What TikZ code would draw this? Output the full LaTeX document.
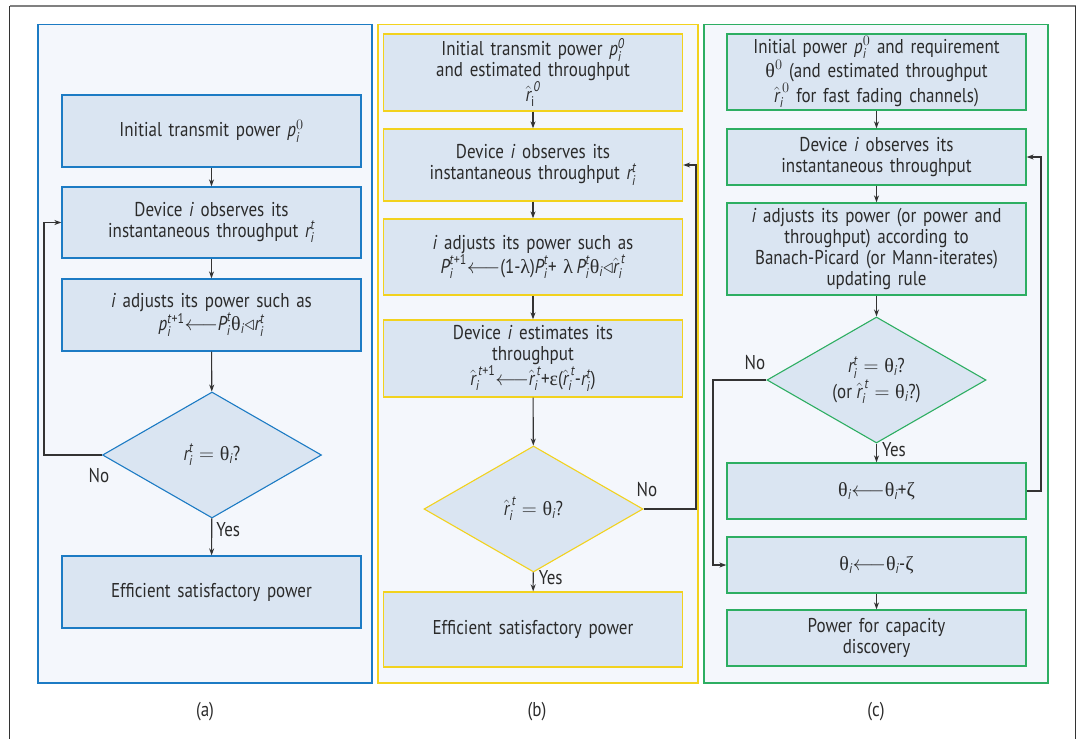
\documentclass[tikz,border=0pt]{standalone}
\usepackage{fontspec}
\usepackage{amsmath,amssymb}
\setmainfont{PT Sans}[FakeStretch=0.85]
\setsansfont{PT Sans}[FakeStretch=0.85]
\newfontfamily\grk{Liberation Serif}
\usetikzlibrary{shapes.geometric,arrows.meta}

% italic variables, Greek letters and operators used in the formulas
\newcommand\mi[1]{\textit{#1}}
\newcommand\gr[1]{\text{\grk #1}}
\newcommand\tx[1]{\text{#1}}
\newcommand\rh{\hat{\mi{r}}}
\newcommand\getsto{\mathord{\longleftarrow}}
\newcommand\tri{\mathord{\triangleleft}}

\definecolor{txtc}{HTML}{2B2B2B}
\definecolor{panelbg}{HTML}{F4F7FC}
\definecolor{boxbg}{HTML}{DAE5F2}
\definecolor{bluec}{HTML}{1C7BC4}
\definecolor{yellc}{HTML}{F2D21E}
\definecolor{greenc}{HTML}{2DAE62}
\definecolor{framec}{HTML}{333333}

\tikzset{
  panel/.style={draw=#1, line width=1.4pt, fill=panelbg},
  stepbox/.style={draw=#1, line width=1.3pt, fill=boxbg, minimum width=299pt,
    text width=294pt, align=center, inner sep=0pt, text=txtc,
    font=\fontsize{20}{21}\selectfont},
  decision/.style={diamond, draw=#1, line width=1.1pt, fill=boxbg, aspect=1.7,
    minimum width=219pt, minimum height=126pt, inner sep=0pt, align=center,
    text=txtc, font=\fontsize{20}{21}\selectfont},
  arr/.style={draw=framec, line width=1.1pt, -{Stealth[length=7pt,width=5pt]}},
  lbl/.style={text=txtc, font=\fontsize{20}{21}\selectfont, inner sep=1pt},
}

\begin{document}
\begin{tikzpicture}[x=1pt, y=-1pt]
\useasboundingbox (0,0) rectangle (1085,739);

% outer frame
\draw[line width=1.5pt, draw=gray] (9.5,6) -- (1075.5,6);
\draw[line width=1.5pt, draw=framec] (9.5,6) -- (9.5,739);
\draw[line width=1.5pt, draw=framec] (1075.5,6) -- (1075.5,739);

% panels
\draw[panel=bluec]  (38,24.5)  rectangle (372,683);
\draw[panel=yellc]  (378,24.5) rectangle (698,683);
\draw[panel=greenc] (704,24.5) rectangle (1048,683);

% ---------- (a) ----------
\node[stepbox=bluec, minimum height=72pt] (a1) at (211.5,131)
  {Initial transmit power $\mi{p}^{0}_{\mi{i}}$};
\node[stepbox=bluec, minimum height=71pt] (a2) at (211.5,222.5)
  {Device \mi{i} observes its\\ instantaneous throughput $\mi{r}^{\mi{t}}_{\mi{i}}$};
\node[stepbox=bluec, minimum height=72pt] (a3) at (211.5,315)
  {\mi{i} adjusts its power such as\\
   $\mi{p}^{\tx{\mi{t}+1}}_{\mi{i}}\getsto\mi{P}^{\mi{t}}_{\mi{i}}\gr{θ}_{\mi{i}}\tri\mi{r}^{\mi{t}}_{\mi{i}}$};
\node[decision=bluec] (ad) at (212,455)
  {$\mi{r}^{\mi{t}}_{\mi{i}}=\gr{θ}_{\mi{i}}\tx{?}$};
\node[stepbox=bluec, minimum height=72pt] (a4) at (211.5,592)
  {Efficient satisfactory power};
\coordinate (aloop) at (44,0);

\draw[arr] (a1) -- (a2);
\draw[arr] (a2) -- (a3);
\draw[arr] (a3) -- (ad);
\draw[arr] (ad) -- node[lbl, right=3pt, pos=0.3] {Yes} (a4);
\draw[arr] (ad.west) -- (ad.west -| aloop) |- (a2.west);
\node[lbl] (ano) at (99,476) {No};
\node[lbl] (acap) at (205,712) {(a)};

% ---------- (b) ----------
\node[stepbox=yellc, minimum height=77pt] (b1) at (533,72.5)
  {Initial transmit power $\mi{p}^{\mi{0}}_{\mi{i}}$\\ and estimated throughput\\ $\rh^{\,\mi{0}}_{\tx{i}}$};
\node[stepbox=yellc, minimum height=72pt] (b2) at (533,165)
  {Device \mi{i} observes its\\ instantaneous throughput $\mi{r}^{\mi{t}}_{\mi{i}}$};
\node[stepbox=yellc, minimum height=76pt] (b3) at (533,257)
  {\mi{i} adjusts its power such as\\
   $\mi{P}^{\tx{\mi{t}+1}}_{\mi{i}}\getsto\tx{(1-}\gr{λ}\tx{)}\mi{P}^{\mi{t}}_{\mi{i}}\tx{+ }\gr{λ}\,\mi{P}^{\mi{t}}_{\mi{i}}\gr{θ}_{\mi{i}}\tri\rh^{\,\mi{t}}_{\mi{i}}$};
\node[stepbox=yellc, minimum height=77pt] (b4) at (533,358.5)
  {Device \mi{i} estimates its\\ throughput\\
   $\rh^{\,\tx{\mi{t}+1}}_{\mi{i}}\getsto\rh^{\,\mi{t}}_{\mi{i}}\tx{+}\gr{ε}\tx{(}\rh^{\,\mi{t}}_{\mi{i}}\tx{-}\mi{r}^{\mi{t}}_{\mi{i}}\tx{)}$};
\node[decision=yellc] (bd) at (533.5,509)
  {$\rh^{\,\mi{t}}_{\mi{i}}=\gr{θ}_{\mi{i}}\tx{?}$};
\node[stepbox=yellc, minimum height=75pt] (b5) at (533,629.5)
  {Efficient satisfactory power};
\coordinate (bloop) at (696,0);

\draw[arr] (b1) -- (b2);
\draw[arr] (b2) -- (b3);
\draw[arr] (b3) -- (b4);
\draw[arr] (b4) -- (bd);
\draw[arr] (bd) -- node[lbl, right=4pt, pos=0.3] {Yes} (b5);
\draw[arr] (bd.east) -- (bd.east -| bloop) |- (b2.east);
\node[lbl] (bno) at (647,490) {No};
\node[lbl] (bcap) at (537,712) {(b)};

% ---------- (c) ----------
\node[stepbox=greenc, minimum height=76pt] (c1) at (876.5,72)
  {Initial power $\mi{p}^{0}_{\mi{i}}$ and requirement\\
   $\gr{θ}^{0}$ (and estimated throughput\\
   $\rh^{\,0}_{\mi{i}}$ for fast fading channels)};
\node[stepbox=greenc, minimum height=56pt] (c2) at (876.5,157)
  {Device \mi{i} observes its\\ instantaneous throughput};
\node[stepbox=greenc, minimum height=92pt] (c3) at (876.5,249)
  {\mi{i} adjusts its power (or power and\\ throughput) according to\\
   Banach-Picard (or Mann-iterates)\\ updating rule};
\node[decision=greenc] (cd) at (876.5,380)
  {$\mi{r}^{\mi{t}}_{\mi{i}}=\gr{θ}_{\mi{i}}\tx{?}$\\
   (or $\rh^{\,\mi{t}}_{\mi{i}}=\gr{θ}_{\mi{i}}\tx{?)}$};
\node[stepbox=greenc, minimum height=56pt] (c4) at (876.5,491)
  {$\gr{θ}_{\mi{i}}\getsto\gr{θ}_{\mi{i}}\tx{+}\gr{ζ}$};
\node[stepbox=greenc, minimum height=56pt] (c5) at (876.5,565)
  {$\gr{θ}_{\mi{i}}\getsto\gr{θ}_{\mi{i}}\tx{-}\gr{ζ}$};
\node[stepbox=greenc, minimum height=56pt] (c6) at (876.5,638)
  {Power for capacity\\ discovery};
\coordinate (cloopr) at (1041,0);
\coordinate (cloopl) at (713,0);

\draw[arr] (c1) -- (c2);
\draw[arr] (c2) -- (c3);
\draw[arr] (c3) -- (cd);
\draw[arr] (cd) -- node[lbl, right=4pt, pos=0.3] {Yes} (c4);
\draw[arr] (c5) -- (c6);
\draw[arr] (c4.east) -- (c4.east -| cloopr) |- (c2.east);
\draw[arr] (cd.west) -- (cd.west -| cloopl) |- (c5.west);
\node[lbl] (cno) at (755,363) {No};
\node[lbl] (ccap) at (876,712) {(c)};
\end{tikzpicture}
\end{document}
